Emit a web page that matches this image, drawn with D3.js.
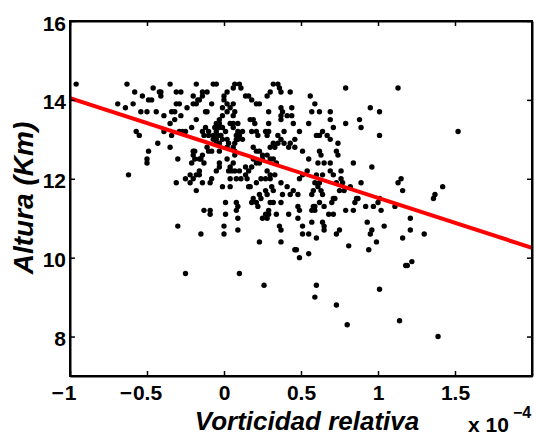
<!DOCTYPE html>
<html>
<head>
<meta charset="utf-8">
<script src="https://cdn.jsdelivr.net/npm/d3@7"></script>
<style>
body { margin: 0; background: #fff; }
svg { display: block; font-family: "Liberation Sans", Arial, sans-serif; }
</style>
</head>
<body>
<div id="chart"></div>
<script>
const width = 534
const height = 435

// vorticidad relativa (x 1e-4), altura (km)
const puntos = [
[-0.96,14.4],[-0.63,14.4],[-0.58,14.2],[-0.53,14.1],[-0.49,14.0],[-0.47,14.0],[-0.42,14.2],[-0.41,14.2],[-0.35,14.4],[-0.31,14.2],
[-0.28,14.2],[-0.18,14.4],[-0.07,14.4],[-0.05,14.4],[-0.14,14.2],[-0.69,13.9],[-0.64,13.8],[-0.59,13.9],[-0.54,13.7],[-0.44,13.7],
[-0.39,13.6],[-0.35,13.4],[-0.32,13.7],[-0.31,13.9],[-0.29,13.9],[-0.32,13.5],[-0.24,13.8],[-0.18,13.9],[-0.17,14.0],[-0.18,13.5],
[-0.12,13.7],[-0.11,13.7],[-0.14,14.1],[-0.11,14.2],[-0.57,13.2],[-0.55,13.1],[-0.49,12.7],[-0.50,12.5],[-0.50,12.4],[-0.43,12.9],
[-0.35,12.8],[-0.30,12.5],[-0.62,12.1],[-0.29,13.2],[-0.25,13.2],[-0.21,13.3],[-0.20,12.7],[-0.19,12.7],[-0.16,12.5],[-0.14,12.6],
[-0.14,13.2],[-0.07,13.1],[-0.05,12.9],[0.00,14.0],[0.02,13.9],[-0.01,13.8],[-0.05,13.4],[-0.03,13.4],[-0.01,13.3],[0.01,13.2],
[-0.06,13.3],[-0.05,13.2],[-0.04,13.1],[-0.10,13.1],[-0.07,13.0],[-0.05,13.0],[-0.01,13.0],[0.03,12.9],[0.06,13.4],[0.06,13.3],
[0.08,13.1],[0.08,13.0],[-0.11,12.8],[-0.10,12.7],[-0.08,12.7],[-0.03,12.7],[0.06,12.8],[0.07,12.7],[-0.20,12.6],[-0.19,12.5],
[-0.15,12.5],[-0.31,11.9],[-0.18,12.1],[-0.16,12.1],[-0.05,12.2],[-0.03,12.3],[0.03,12.2],[0.05,12.2],[0.07,12.2],
[-0.46,14.3],[-0.39,13.2],[-0.34,13.1],[-0.27,13.2],[-0.21,12.4],
[-0.13,12.4],[-0.20,14.1],[-0.16,14.0],[-0.20,13.9],[-0.08,13.9],[-0.28,13.6],[-0.12,13.3],[-0.10,13.2],[-0.13,13.1],
[-0.16,12.2],[-0.50,13.7],[-0.34,13.7],[-0.41,14.1],
[0.07,14.4],[0.10,14.4],[0.11,14.3],[0.06,14.3],[0.32,14.4],[0.35,14.4],[0.36,14.3],[0.37,14.2],[0.30,14.2],[0.28,14.1],
[0.02,14.2],[0.00,14.1],[0.14,14.1],[0.16,14.1],[0.18,14.0],[0.21,13.9],[0.23,13.9],[0.43,14.2],[0.56,14.1],[0.59,13.9],
[0.79,14.3],[1.13,14.3],[0.95,13.8],[1.01,13.7],[0.06,13.9],[0.04,13.8],[0.02,13.7],[-0.01,13.6],[0.07,13.7],[0.06,13.6],
[-0.03,13.5],[0.04,13.4],[0.09,13.4],[0.17,13.5],[0.19,13.5],[0.20,13.4],[0.29,13.7],[0.37,13.8],[0.38,13.7],[0.37,13.6],
[0.41,13.6],[0.44,13.6],[0.44,13.8],[0.29,13.4],[0.37,13.5],[0.45,13.4],[0.57,13.7],[0.62,13.7],[0.55,13.4],[0.69,13.7],
[0.69,13.5],[0.71,13.3],[0.79,13.4],[0.88,13.5],[0.89,13.3],[1.01,13.1],[-0.03,13.3],[-0.02,13.1],[0.02,13.0],[0.09,13.2],
[0.10,13.1],[0.12,13.2],[0.18,13.2],[0.21,13.2],[0.22,13.1],[0.27,13.2],[0.29,13.2],[0.28,13.1],[0.35,13.1],[0.37,13.0],
[0.39,13.2],[0.46,13.0],[0.49,13.2],[0.60,13.1],[0.62,13.1],[0.64,13.2],[0.67,13.1],[0.69,13.0],[0.73,12.7],[0.74,12.6],
[-0.03,12.9],[0.02,12.8],[0.07,12.9],[0.09,13.0],[0.12,13.0],[0.19,12.8],[0.21,12.7],[0.23,12.7],[0.25,12.6],[0.28,12.6],
[0.30,12.5],[0.32,12.5],[0.34,12.4],[0.30,12.8],[0.32,12.9],[0.33,12.8],[0.35,12.9],[0.25,12.5],[0.23,12.4],[0.39,12.9],
[0.43,12.9],[0.51,12.7],[0.55,12.5],[0.62,12.7],[0.63,12.6],[0.54,12.2],[0.60,12.1],[0.69,12.2],[0.71,12.1],[0.76,12.0],
[0.84,12.4],[0.96,12.3],[-0.03,12.4],[0.02,12.5],[0.04,12.3],[0.10,12.2],[0.14,12.3],[0.16,12.2],[0.19,12.5],[0.21,12.4],
[0.18,12.3],[0.14,12.1],[0.28,12.2],[0.30,12.1],[0.49,12.0],[0.74,12.9],[0.42,12.8],[0.46,12.8],[0.61,12.4],
[0.65,12.4],[0.69,12.4],[0.06,12.4],[0.07,12.6],
[-0.25,12.0],[-0.22,12.1],[-0.22,11.9],[-0.18,11.7],[-0.20,12.0],[-0.14,11.9],[-0.09,11.9],[-0.08,12.0],[-0.01,11.8],[0.04,12.0],
[0.04,11.8],[0.08,12.0],[0.11,12.0],[0.15,12.0],[0.16,11.8],[0.17,11.8],[0.21,11.9],[0.24,12.0],[0.27,12.0],[0.30,12.0],
[0.23,11.6],[0.24,11.5],[0.27,11.7],[0.28,11.6],[0.31,11.8],[0.32,11.7],[0.19,11.5],[0.21,11.4],[0.22,11.3],[0.30,11.4],
[0.32,11.4],[0.29,11.2],[0.29,11.1],[0.25,11.0],[0.28,11.0],[0.34,11.1],[0.01,11.4],[0.08,11.4],[0.09,11.3],[-0.13,11.2],
[-0.09,11.2],[-0.09,11.1],[0.01,11.1],[0.00,10.8],[0.00,10.6],[0.08,11.2],[0.09,11.0],[0.09,10.7],[-0.15,10.6],[-0.30,10.8],
[0.23,10.4],[0.36,10.8],[0.37,10.7],[0.37,10.4],[0.38,11.6],[0.43,11.6],[0.45,11.7],[0.48,11.6],[0.42,11.1],[0.48,11.3],
[0.49,11.2],[0.48,11.0],[0.51,10.8],[0.57,11.6],[0.58,11.3],[0.59,11.2],[0.55,10.6],[0.57,10.9],[0.46,10.2],[0.47,10.2],
[0.49,10.0],[0.55,10.1],[0.60,10.5],[-0.25,9.6],[0.10,9.6],[0.26,9.3],[0.60,9.3],[0.59,9.0],[0.37,11.4],[0.18,11.4],
[0.27,11.1],[0.37,11.9],[0.41,11.8],[0.33,12.1],
[0.51,12.1],[0.64,12.1],[0.59,11.9],[0.61,11.8],[0.62,11.9],[0.76,12.2],[0.73,11.9],[0.77,11.9],[0.78,11.7],[0.82,11.8],
[0.89,11.9],[0.75,11.7],[0.63,11.7],[0.64,11.6],[0.62,11.4],[0.65,11.3],[0.57,11.2],[0.59,11.3],[0.70,11.4],[0.71,11.5],
[0.72,11.5],[0.85,11.4],[0.86,11.5],[0.87,11.5],[0.79,11.2],[0.84,11.2],[0.68,11.1],[0.71,11.1],[0.92,11.3],[0.97,11.3],
[1.01,11.5],[1.00,11.4],[1.02,11.2],[1.11,11.3],[1.13,11.9],[1.15,12.0],[1.16,11.7],[1.36,11.5],[1.37,11.6],[1.42,11.8],
[0.64,10.9],[0.65,10.7],[0.51,10.6],[0.73,10.6],[0.75,10.7],[0.81,10.3],[0.93,10.9],[0.95,10.6],[0.96,10.7],[0.99,10.4],
[1.04,10.8],[0.94,10.2],[1.01,9.2],[1.16,10.5],[1.21,11.0],[1.21,10.7],[1.30,10.6],[1.18,9.8],[1.19,9.8],[1.22,9.9],
[0.65,10.8],[0.58,11.7],[0.73,8.8],[0.80,8.3],[1.14,8.4],[1.39,8.0],[1.52,13.2]
]

// ajuste lineal: altura = intercepto + pendiente * vorticidad
const intercepto = 12.78
const pendiente = -1.265

const xDominio = [-1, 2]
const yDominio = [7, 16]
const xTicks = [-1, -0.5, 0, 0.5, 1, 1.5]
const yTicks = [8, 10, 12, 14, 16]

const mLeft = 70, mRight = 532, mTop = 21, mBottom = 376

const svg = d3.select("#chart")
.append("svg")
.attr("width", width)
.attr("height", height)

const x = d3.scaleLinear().domain(xDominio).range([mLeft, mRight])
const y = d3.scaleLinear().domain(yDominio).range([mBottom, mTop])

svg.append("clipPath").attr("id", "area")
.append("rect")
.attr("x", mLeft).attr("y", mTop)
.attr("width", mRight - mLeft).attr("height", mBottom - mTop)

// puntos
svg.append("g")
.selectAll("circle")
.data(puntos)
.enter()
.append("circle")
.attr("cx", d => x(d[0]))
.attr("cy", d => y(d[1]))
.attr("r", 2.7)
.attr("fill", "#000")

// recta de regresion
svg.append("line")
.attr("clip-path", "url(#area)")
.attr("x1", x(xDominio[0]))
.attr("y1", y(intercepto + pendiente * xDominio[0]))
.attr("x2", x(xDominio[1]))
.attr("y2", y(intercepto + pendiente * xDominio[1]))
.attr("stroke", "#ff0000")
.attr("stroke-width", 4)

// ejes estilo matlab, ticks hacia dentro
const fmt = v => String(Math.abs(v))

const gx = svg.append("g")
.attr("transform", `translate(0,${mBottom})`)
.call(d3.axisBottom(x).tickValues(xTicks).tickSizeInner(-5).tickSizeOuter(0).tickPadding(9).tickFormat(fmt))

svg.append("g")
.attr("transform", `translate(0,${mTop})`)
.call(d3.axisTop(x).tickValues(xTicks).tickSizeInner(-5).tickSizeOuter(0).tickFormat(""))

svg.append("g")
.attr("transform", `translate(${mLeft},0)`)
.call(d3.axisLeft(y).tickValues(yTicks).tickSizeInner(-5).tickSizeOuter(0).tickPadding(4))

svg.append("g")
.attr("transform", `translate(${mRight},0)`)
.call(d3.axisRight(y).tickValues(yTicks).tickSizeInner(-5).tickSizeOuter(0).tickFormat(""))

svg.selectAll(".domain").attr("stroke", "#000").attr("stroke-width", 2)
svg.selectAll(".tick line").attr("stroke", "#000").attr("stroke-width", 1.5)
svg.selectAll(".tick text")
.attr("fill", "#000")
.style("font-size", "21px")
.style("font-weight", "bold")
.style("font-family", "'Liberation Sans', Arial, sans-serif")

svg.selectAll(".tick text").filter(function(){ return this.getAttribute("dy") === "0.32em" }).attr("dy", "0.43em")

// signo menos colgando a la izquierda, como matlab
gx.selectAll(".tick").each(function(d){
  if (d < 0) {
    const t = d3.select(this).select("text")
    const w = t.node().getComputedTextLength()
    d3.select(this).append("text")
    .attr("x", -w / 2 - 1)
    .attr("y", t.attr("y"))
    .attr("dy", t.attr("dy"))
    .attr("text-anchor", "end")
    .attr("fill", "#000")
    .style("font-size", "21px")
    .style("font-weight", "bold")
    .text("\u2212")
  }
})

svg.append("rect")
.attr("x", mLeft).attr("y", mTop)
.attr("width", mRight - mLeft).attr("height", mBottom - mTop)
.attr("fill", "none")
.attr("stroke", "#000")
.attr("stroke-width", 2)

// titulos de ejes
svg.append("text")
.attr("x", 307)
.attr("y", 430)
.attr("text-anchor", "middle")
.style("font-size", "26px")
.style("font-weight", "bold")
.style("font-style", "italic")
.text("Vorticidad relativa")

svg.append("text")
.attr("transform", `translate(33,198) rotate(-90)`)
.attr("text-anchor", "middle")
.style("font-size", "28px")
.style("font-weight", "bold")
.style("font-style", "italic")
.text("Altura (Km)")

// factor de escala del eje x
svg.append("text")
.attr("x", 468)
.attr("y", 432)
.style("font-size", "21px")
.style("font-weight", "bold")
.text("x 10")

svg.append("text")
.attr("x", 513)
.attr("y", 418)
.style("font-size", "16px")
.style("font-weight", "bold")
.text("\u22124")
</script>
</body>
</html>
